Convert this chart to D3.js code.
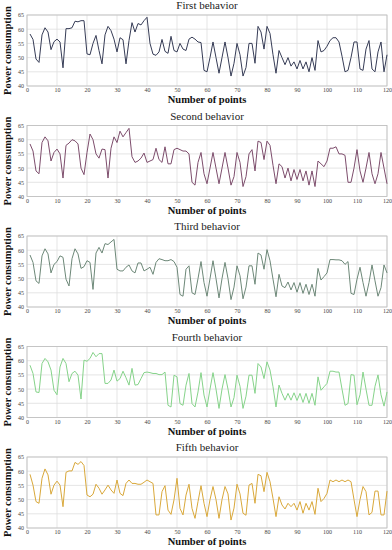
<html>
<head>
<meta charset="utf-8">
<style>
  body { margin: 0; background: #fff; }
  svg { display: block; }
  .tick text { font-family: "Liberation Serif", serif; font-size: 6px; fill: #444; }
  .title { font-family: "Liberation Serif", serif; font-size: 11px; fill: #222; }
  .lab { font-family: "Liberation Serif", serif; font-size: 10.5px; font-weight: bold; fill: #111; }
</style>
</head>
<body>
<svg width="392" height="550"></svg>
<script src="https://cdnjs.cloudflare.com/ajax/libs/d3/7.8.5/d3.min.js"></script>
<script>
// values, points 1..120
var behavior1 = [58.3,56.4,49.5,48.3,58,60.5,59,52.8,55.6,56.5,
  55.5,46.4,60.2,60.2,60.5,62.8,62.6,63,63,51.3,
  51,55,57.8,52.5,47.8,58,61,59.5,56.5,52,
  57,56.3,47.8,56,62.3,59,62,61.5,63,64.2,
  55,51.2,50.8,52,56.4,52.2,51.5,57.5,52.5,52,
  55,53,52.5,56.5,57.2,56.5,55.5,55.3,45.5,45,
  50,55.5,50,44.5,50,55.5,50,43.5,48,55,
  51,43.5,46.5,55,55,48,61,59,53,61,
  58.5,51,44.5,52.5,50,47.5,50,47,48.5,46,
  49,46,48.5,45,50,45.5,56,52,52.5,54,
  56,57,57,55.5,50.5,45,45.5,50,55.5,55.5,
  46,45.5,53,56,46,45,52,55.5,45,51];

var behavior2 = [58.5,56,49,48,59,61,59.6,52.5,55.5,56.7,
  55,46.5,58,58.8,60,59.6,58.5,50,47.7,55.5,
  62,60,55,53.5,56.7,56.5,46.5,57,61,59,
  63,61,62.5,64,54,52,52.5,53.5,55.3,52,
  52.5,53,57,53,52,57.5,51.5,51.5,56.5,57,
  56.5,56,56,55,45,44,52,55.5,48,44.5,
  50,55.5,50,44.5,50,55.5,50,44,47,55.5,
  52,43.5,47,55,56.5,49,59.5,59,53,59.5,
  58,51,44.5,51.5,50.5,46.5,50,45.5,49.5,46,
  49.5,45.5,49,44,49,43.5,52.5,51.5,50.5,52.5,
  57,57,57.5,55,55,54.5,45,45,50,56.5,
  49,45,50,55.5,48,44.5,48,55.5,50,44.5];

var behavior3 = [58.3,55.7,49.2,48.3,58,60.5,58.7,52,55,56,
  58,57.5,49.8,47.4,57,60.5,58.7,53.6,54.2,56.3,
  55.7,46.2,59,61,59,62.3,62,62.9,63.8,53.3,
  52.7,52.7,54,54.8,52.7,52,55.5,55.5,52.7,53.3,
  54,51.5,55.7,57,56.7,56.3,56.3,56.7,56,54,
  44.4,43.8,53.3,54.5,45,44.4,50,56,48.6,43.8,
  50,56.3,50,43.2,50,55.7,50,42.6,47,54.5,
  51,42.9,47,54.5,54.5,48,59,58.3,53.3,60.2,
  56.3,49.8,43.6,51.5,47.4,46.8,48.8,46,48.6,45.2,
  48.6,44.8,48,44.4,48,43.8,53.6,49.5,50.7,52,
  56.7,56.7,56.6,56.6,56.3,55,56,44.8,44.4,49.8,
  54,48.6,43.8,48.6,54.8,49.2,43.8,46.8,54.8,52];

var behavior4 = [58.4,55.5,49,48.8,59,60.8,59.6,56.7,49.6,48,
  57.8,60.8,59,52.6,55.5,56.3,54.9,46.5,60.2,59.8,
  60.8,62.9,61.4,62.5,62.5,52,52,53.2,56.7,52.8,
  53.7,56.3,54,51.4,57.3,51.4,51.6,53.7,55.8,56,
  55.8,55.5,55.5,55.1,55.1,56,44.3,43.7,54.9,54.3,
  44.9,44.3,51.4,55.5,44.9,43.7,49,55.8,47.9,43.7,
  50,55.8,50,43.2,50,55.1,50,43.7,47,54.9,
  51,43.2,47.5,54.9,54.9,48.5,59,57.8,53.7,59.6,
  56.7,50.8,43.7,51.4,48.5,46.1,48.5,46.1,48.7,46,
  48.5,45.3,48.5,45,48.5,44.3,54.3,49.6,50.8,52,
  56.3,56.3,56,56,50,44.3,44.9,55.1,54.9,44.5,
  48,56,50,44.3,44.3,51,55,48,44,49];

var behavior5 = [58.9,55.1,49.3,48.7,57.5,60.8,58.7,51.9,55.1,56.5,
  55.1,47.5,59.6,60.1,60.1,63.1,62.4,63.4,62,51.6,
  51,51.9,55.4,54,51.9,53.4,55.1,53.4,52.2,56.9,
  52.2,51.4,55.7,56.9,55.7,55.7,55.4,55.4,56.1,56.9,
  56.3,55.7,44.6,44.6,52.8,54.9,46.3,44.8,49.9,57.5,
  46.9,44.6,51.6,55.4,46.9,43.4,49.3,54.9,48.7,44,
  50,54.6,50,43.4,50,54.6,52,42.8,47,55.4,
  52,45.2,44.5,55.1,55.7,48.7,58.9,58.4,52.8,59.6,
  56.3,50.4,44,51,48.1,46.7,48.7,47.5,48.7,46.3,
  49.3,45.2,48.7,46.3,49.3,44.8,54,49.3,50.4,52.2,
  56.9,56.3,56.9,56.3,56.9,56.3,56.9,56.3,50,44,
  50,54.6,52.8,44.6,45.5,53,53,44.6,44.6,53];

var titles = ["First behavior", "Second behavior", "Third behavior", "Fourth behavior", "Fifth behavior"];
var xTicks = [0,10,20,30,40,50,60,70,80,90,100,110,120];
var yTicks = [40,45,50,55,60,65];
var xLabel = "Number of points";
var yLabel = "Power consumption";

var series = [behavior1, behavior2, behavior3, behavior4, behavior5];
var colors = ["#363c56", "#7d4d6c", "#6d8878", "#86d38a", "#d9a83a"];

var svg = d3.select("svg");
var left = 27, right = 387, plotH = 71, step = 110.5, top0 = 15;

var x = d3.scaleLinear().domain([0, 120]).range([left, right]);

series.forEach(function (data, i) {
  var top = top0 + i * step;
  var y = d3.scaleLinear().domain([40, 65]).range([top + plotH, top]);
  var g = svg.append("g");

  // grid
  g.selectAll(".vg").data(xTicks).enter().append("line")
    .attr("x1", function (d) { return x(d); }).attr("x2", function (d) { return x(d); })
    .attr("y1", top).attr("y2", top + plotH)
    .attr("stroke", "#dedede").attr("stroke-width", 0.8);
  g.selectAll(".hg").data(yTicks).enter().append("line")
    .attr("x1", left).attr("x2", right)
    .attr("y1", function (d) { return y(d); }).attr("y2", function (d) { return y(d); })
    .attr("stroke", "#dedede").attr("stroke-width", 0.8);

  g.append("g")
    .attr("transform", "translate(0," + (top + plotH) + ")")
    .call(d3.axisBottom(x).tickValues(xTicks).tickSize(0).tickPadding(2))
    .call(function (a) { a.select(".domain").remove(); });
  g.append("g")
    .attr("transform", "translate(" + left + ",0)")
    .call(d3.axisLeft(y).tickValues(yTicks).tickSize(0).tickPadding(3))
    .call(function (a) { a.select(".domain").remove(); });

  g.append("rect")
    .attr("x", left).attr("y", top).attr("width", right - left).attr("height", plotH)
    .attr("fill", "none").attr("stroke", "#bdbdbd").attr("stroke-width", 0.8);

  var line = d3.line()
    .x(function (d, j) { return x(j + 1); })
    .y(function (d) { return y(d); });
  g.append("path").datum(data)
    .attr("d", line)
    .attr("fill", "none")
    .attr("stroke", colors[i])
    .attr("stroke-width", 1);

  g.append("text").attr("class", "title")
    .attr("x", (left + right) / 2).attr("y", top - 6)
    .attr("text-anchor", "middle").text(titles[i]);

  g.append("text").attr("class", "lab")
    .attr("x", (left + right) / 2).attr("y", top + plotH + 17)
    .attr("text-anchor", "middle").text(xLabel);

  g.append("text").attr("class", "lab")
    .attr("transform", "translate(10.5," + (top + plotH / 2) + ") rotate(-90)")
    .attr("text-anchor", "middle").text(yLabel);
});
</script>
</body>
</html>
